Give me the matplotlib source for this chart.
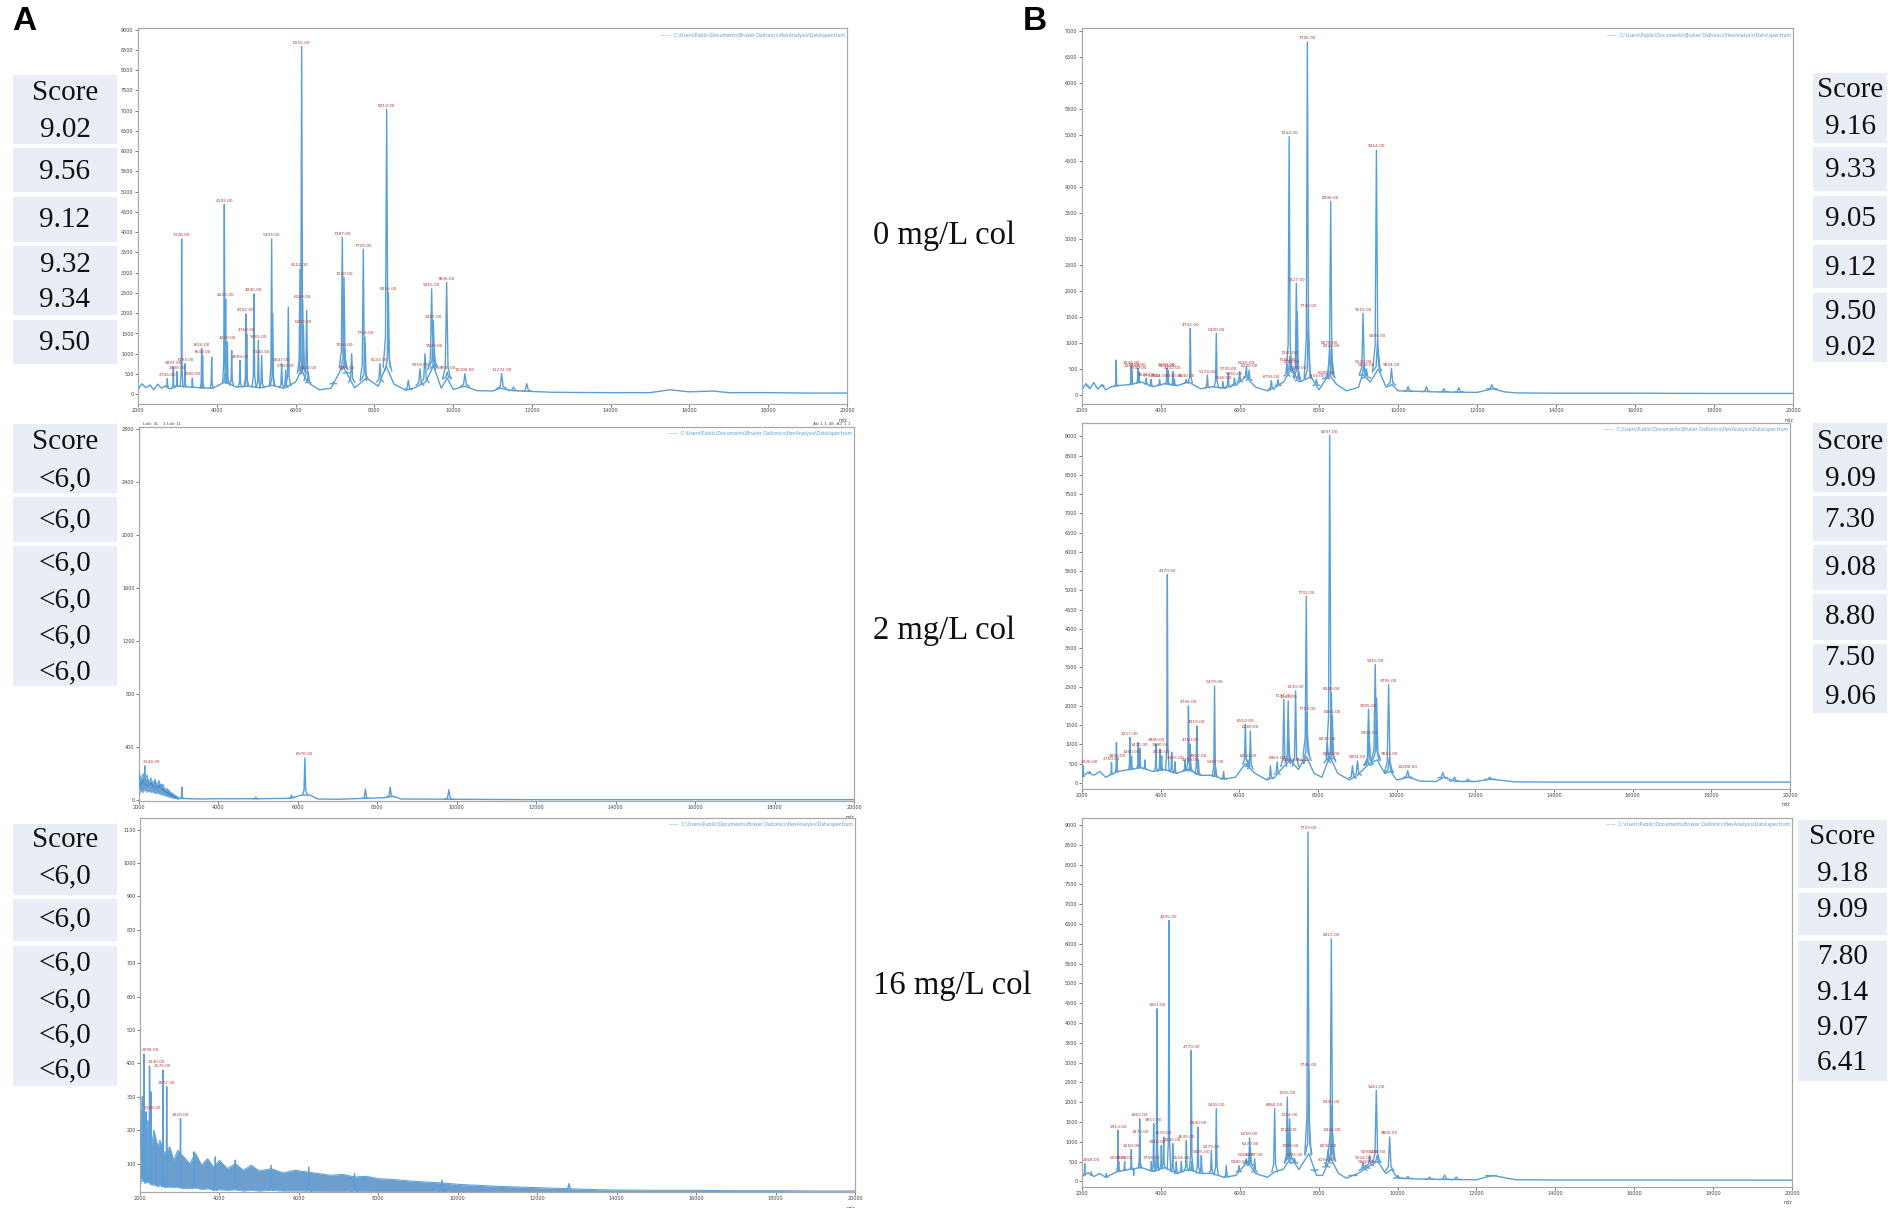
import numpy as np
import matplotlib
matplotlib.use("Agg")
import matplotlib.pyplot as plt
from matplotlib.patches import Rectangle

W, H = 1904, 1208

# ---------------- data ----------------
# Panel A1 (0 mg/L col, left)
a1_mz = [2745, 2897, 2990, 3108, 3193, 3380, 3616, 3640, 3870, 4192, 4225, 4270, 4378, 4589,
         4742, 4760, 4945, 5055, 5140, 5393, 5420, 5647, 5750, 5816, 6112, 6155, 6180, 6200,
         6282, 6324, 6960, 7187, 7230, 7250, 7297, 7424, 7720, 7763, 8143, 8313, 8355, 8862,
         9159, 9286, 9455, 9497, 9520, 9836, 9850, 10300, 11232, 11530, 11870]
a1_int = [385, 672, 560, 3830, 754, 400, 1123, 950, 918, 4690, 2350, 1290, 1080, 836,
          1985, 1490, 2476, 1330, 960, 3830, 2000, 755, 600, 2150, 3090, 8585, 2310, 1700,
          2070, 550, 300, 3870, 2890, 1120, 550, 1000, 3580, 1410, 755, 7030, 2520, 345,
          630, 1000, 2600, 1820, 1100, 2760, 550, 510, 510, 180, 260]
a1_lab = [1, 1, 1, 1, 1, 1, 1, 1, 0, 1, 1, 1, 0, 1,
          1, 1, 1, 1, 1, 1, 0, 1, 1, 0, 1, 1, 1, 1,
          0, 1, 0, 1, 1, 1, 1, 0, 1, 1, 1, 1, 1, 0,
          1, 0, 1, 1, 1, 1, 1, 1, 1, 0, 0]
a1_base_mz = [2000, 2100, 2200, 2300, 2400, 2500, 2600, 2700, 2800, 3000, 3300, 3600, 3900,
              4200, 4500, 4800, 5100, 5400, 5700, 6000, 6150, 6300, 6600, 6900, 7200, 7500,
              7800, 8100, 8300, 8500, 8800, 9000, 9300, 9500, 9700, 9850, 10000, 10300, 10600,
              11000, 11200, 11500, 12000, 12500, 13000, 14000, 15000, 15500, 16000, 16600,
              17000, 18000, 19000, 20000]
a1_base = [120, 260, 160, 230, 110, 250, 150, 210, 130, 200, 180, 160, 150,
           300, 180, 200, 160, 220, 150, 300, 600, 300, 110, 150, 700, 160,
           400, 200, 700, 250, 100, 150, 300, 700, 150, 400, 120, 200, 90,
           80, 150, 90, 70, 50, 45, 40, 40, 110, 60, 80,
           40, 40, 30, 30]

# Panel A2 (2 mg/L col, left)
a2_mz = [2030, 2144, 2240, 2400, 2560, 3080, 4940, 5840, 6176, 7700, 8324, 9800]
a2_int = [180, 260, 150, 140, 120, 100, 25, 40, 320, 85, 100, 80]
a2_lab = [0, 1, 0, 0, 0, 0, 0, 0, 1, 0, 0, 0]
a2_base_mz = [2000, 2100, 2200, 2300, 2400, 2500, 2600, 2700, 2800, 2900, 3000, 3500, 4000,
              5000, 5800, 6100, 6300, 6500, 7000, 8200, 8400, 8600, 10000, 12000, 20000]
a2_base = [80, 150, 110, 130, 90, 110, 80, 60, 40, 25, 15, 10, 12,
           12, 15, 40, 40, 10, 8, 20, 30, 10, 8, 5, 5]
a2_band_mz = [2000, 2050, 2100, 2150, 2200, 2250, 2300, 2350, 2400, 2450, 2500, 2550, 2600,
              2650, 2700, 2800, 3000]
a2_band_hi = [220, 150, 200, 140, 190, 130, 170, 120, 160, 110, 150, 100, 120, 80, 90, 60, 20]
a2_band_lo = [40, 70, 60, 80, 60, 70, 60, 65, 50, 55, 50, 45, 40, 35, 30, 20, 8]

# Panel A3 (16 mg/L col, left)
a3_mz = [2060, 2096, 2156, 2240, 2276, 2396, 2576, 2672, 3020, 3356, 3896, 4400, 5300,
         6250, 7400, 9600, 12800]
a3_int = [300, 428, 255, 392, 315, 155, 380, 330, 235, 135, 120, 110, 95, 90, 70, 50, 40]
a3_lab = [0, 1, 1, 1, 0, 0, 1, 1, 1, 0, 0, 0, 0, 0, 0, 0, 0]
a3_band_mz = [2000, 2050, 2120, 2200, 2300, 2350, 2450, 2500, 2620, 2750, 2850, 2950, 3100,
              3250, 3400, 3550, 3700, 3850, 4000, 4200, 4400, 4600, 4800, 5000, 5300, 5600,
              5900, 6200, 6500, 6800, 7100, 7400, 7700, 8000, 8400, 8800, 9200, 9600, 10000,
              10500, 11000, 11500, 12000, 12500, 13000, 13500, 14000, 15000, 16000, 17000,
              18000, 19000, 20000]
a3_band_hi = [150, 260, 180, 230, 160, 200, 150, 170, 130, 150, 110, 140, 120,
              100, 130, 95, 115, 90, 110, 85, 100, 80, 95, 78, 85, 72,
              80, 75, 70, 65, 68, 60, 62, 55, 52, 48, 45, 42, 38,
              35, 32, 30, 28, 26, 24, 22, 21, 20, 20, 19,
              19, 18, 18]
a3_band_lo = [30, 60, 40, 50, 35, 40, 30, 35, 30, 30, 28, 30, 25,
              25, 28, 22, 25, 20, 22, 20, 22, 18, 20, 18, 20, 18,
              18, 18, 17, 16, 16, 16, 16, 15, 15, 15, 15, 15, 14,
              14, 14, 14, 14, 14, 14, 14, 14, 14, 14, 14,
              14, 14, 14]

# Panel B1 (0 mg/L col, right)
b1_mz = [2148, 2528, 2866, 3246, 3265, 3415, 3440, 3626, 3752, 3964, 4150, 4175, 4302, 4340,
         4640, 4742, 5174, 5400, 5568, 5700, 5860, 5990, 6160, 6230, 6793, 6962, 7191, 7244,
         7260, 7290, 7427, 7450, 7480, 7706, 7730, 7933, 8180, 8270, 8296, 8320, 9116, 9130,
         9200, 9454, 9480, 9834, 10256, 10720, 11160, 11540, 12375]
b1_int = [160, 190, 673, 545, 480, 513, 450, 320, 300, 300, 513, 480, 450, 300,
          300, 1282, 380, 1186, 260, 420, 330, 450, 545, 480, 280, 300, 600, 4970,
          740, 560, 2150, 1600, 450, 6795, 1635, 300, 350, 930, 3720, 880, 1570, 560,
          500, 4710, 1060, 513, 160, 160, 120, 140, 200]
b1_lab = [0, 0, 0, 1, 1, 1, 1, 1, 1, 1, 1, 1, 1, 1,
          1, 1, 1, 1, 1, 1, 1, 0, 1, 1, 1, 0, 1, 1,
          1, 1, 1, 0, 1, 1, 1, 1, 1, 1, 1, 1, 1, 1,
          1, 1, 1, 1, 0, 0, 0, 0, 0]
b1_base_mz = [2000, 2100, 2200, 2300, 2400, 2500, 2600, 2750, 2900, 3200, 3500, 3800, 4100,
              4400, 4700, 5000, 5300, 5600, 5900, 6150, 6400, 6700, 6900, 7100, 7300, 7500,
              7800, 8000, 8250, 8450, 8700, 9000, 9100, 9300, 9500, 9700, 9850, 10000, 10500,
              11000, 12000, 12400, 12700, 13000, 14000, 16000, 18000, 20000]
b1_base = [100, 220, 120, 240, 110, 200, 100, 160, 180, 200, 250, 160, 220,
           180, 250, 120, 160, 130, 200, 350, 150, 80, 150, 250, 500, 250,
           350, 100, 400, 200, 80, 150, 400, 250, 500, 150, 200, 80, 70,
           60, 50, 120, 60, 40, 35, 35, 30, 30]

# Panel B2 (2 mg/L col, right)
b2_mz = [2026, 2196, 2750, 2876, 2890, 3217, 3260, 3430, 3472, 3600, 3880, 3980, 4025, 4170,
         4280, 4365, 4620, 4706, 4750, 4760, 4919, 4960, 5370, 5387, 5600, 6153, 6220, 6280,
         6791, 6961, 7131, 7242, 7259, 7300, 7430, 7640, 7702, 7719, 8238, 8297, 8340, 8365,
         8330, 8876, 9004, 9260, 9285, 9300, 9455, 9490, 9795, 9812, 10280, 11174, 11470,
         11810, 12365]
b2_int = [450, 300, 535, 1050, 600, 1180, 700, 1050, 900, 600, 1010, 880, 700, 5405,
          800, 550, 600, 2000, 1010, 500, 1480, 600, 2517, 450, 300, 1525, 600, 1353,
          450, 550, 2172, 2130, 1100, 500, 2390, 500, 4845, 1830, 1050, 9025, 2345, 1740,
          650, 450, 577, 600, 1913, 1200, 3080, 2200, 2560, 660, 320, 275, 150,
          100, 150]
b2_lab = [1, 0, 1, 0, 1, 1, 1, 0, 1, 0, 1, 1, 1, 1,
          0, 1, 0, 1, 1, 1, 1, 1, 1, 1, 0, 1, 1, 1,
          0, 1, 1, 1, 0, 1, 1, 1, 1, 1, 1, 1, 1, 1,
          1, 0, 1, 0, 1, 1, 1, 0, 1, 1, 1, 0, 0,
          0, 0]
b2_base_mz = [2000, 2150, 2300, 2450, 2600, 2900, 3200, 3500, 3800, 4100, 4400, 4700, 5000,
              5300, 5600, 5900, 6150, 6400, 6700, 6900, 7100, 7300, 7500, 7700, 7900, 8100,
              8300, 8500, 8800, 9000, 9300, 9500, 9700, 9850, 10000, 10300, 10600, 11000,
              11200, 11500, 12000, 12400, 13000, 14000, 20000]
b2_base = [150, 280, 200, 300, 150, 300, 350, 400, 300, 350, 250, 350, 200,
           200, 100, 150, 500, 250, 80, 150, 400, 600, 350, 700, 250, 150,
           700, 250, 80, 200, 500, 600, 250, 300, 80, 150, 50, 40,
           150, 40, 40, 100, 30, 25, 25]

# Panel B3 (16 mg/L col, right)
b3_mz = [2068, 2237, 2617, 2913, 2930, 3080, 3250, 3310, 3462, 3470, 3758, 3817, 3901, 3910,
         4011, 4070, 4205, 4300, 4391, 4518, 4645, 4770, 4780, 4940, 5025, 5279, 5405, 5659,
         5980, 6166, 6250, 6270, 6377, 6884, 7205, 7220, 7264, 7280, 7391, 7729, 7746, 7898,
         8194, 8236, 8321, 8330, 8345, 8870, 9124, 9200, 9293, 9461, 9480, 9800, 10010,
         10264, 10813, 11194, 11490, 12377]
b3_int = [446, 240, 200, 1290, 500, 500, 800, 150, 1580, 1150, 500, 1457, 4360, 900,
          900, 1120, 6590, 950, 500, 500, 1035, 3310, 500, 1370, 650, 783, 1835, 400,
          400, 570, 1100, 850, 570, 1835, 2130, 1200, 1580, 800, 570, 8824, 2846, 240,
          450, 800, 6130, 1920, 1200, 150, 490, 400, 650, 2300, 650, 1120, 150,
          130, 110, 160, 110, 130]
b3_lab = [1, 0, 0, 1, 1, 1, 1, 0, 1, 1, 1, 1, 1, 1,
          0, 1, 1, 1, 0, 1, 1, 1, 0, 1, 1, 1, 1, 0,
          1, 1, 1, 1, 1, 1, 1, 1, 1, 1, 1, 1, 1, 0,
          1, 1, 1, 1, 1, 0, 1, 1, 1, 1, 1, 1, 0,
          0, 0, 0, 0, 0]
b3_base_mz = [2000, 2150, 2300, 2450, 2600, 2900, 3200, 3500, 3800, 4100, 4400, 4700, 5000,
              5300, 5600, 5900, 6200, 6400, 6700, 6900, 7100, 7300, 7500, 7750, 7950, 8100,
              8300, 8500, 8700, 9000, 9300, 9500, 9700, 9850, 10000, 10500, 11000, 12000,
              12400, 13000, 14000, 20000]
b3_base = [120, 220, 120, 200, 100, 250, 300, 350, 250, 350, 200, 300, 200,
           200, 100, 150, 500, 200, 100, 250, 300, 600, 300, 700, 150, 150,
           600, 200, 80, 200, 400, 500, 200, 300, 80, 60, 50, 40,
           150, 40, 35, 30]

# score tables
scores_a1 = [["Score", "9.02"], ["9.56"], ["9.12"], ["9.32", "9.34"], ["9.50"]]
scores_a2 = [["Score", "<6,0"], ["<6,0"], ["<6,0", "<6,0", "<6,0", "<6,0"]]
scores_a3 = [["Score", "<6,0"], ["<6,0"], ["<6,0", "<6,0", "<6,0", "<6,0"]]
scores_b1 = [["Score", "9.16"], ["9.33"], ["9.05"], ["9.12"], ["9.50", "9.02"]]
scores_b2 = [["Score", "9.09"], ["7.30"], ["9.08"], ["8.80"], ["7.50", "9.06"]]
scores_b3 = [["Score", "9.18"], ["9.09"], ["7.80", "9.14", "9.07", "6.41"]]
conditions = ["0 mg/L col", "2 mg/L col", "16 mg/L col"]
xticks = list(range(2000, 20001, 2000))

# ---------------- drawing ----------------
fig = plt.figure(figsize=(W / 100, H / 100), dpi=100)
fig.patch.set_facecolor("white")

LINE = "#5b9fd5"
SERIF = ["Liberation Serif", "DejaVu Serif"]


def px_axes(x0, y0, x1, y1):
    return fig.add_axes([x0 / W, 1 - y1 / H, (x1 - x0) / W, (y1 - y0) / H])


def panel(rect, mz, inten, lab, base_mz, base, ylim, ystep, ystart, band=None, header=False):
    ax = px_axes(*rect)
    ax.set_xlim(2000, 20000)
    ax.set_ylim(*ylim)
    if base_mz is not None:
        ax.plot(base_mz, base, color=LINE, lw=1.0, zorder=2)
    if band is not None:
        bm, bh, bl = band
        ax.fill_between(bm, bl, bh, color="#3579bf", alpha=0.72, lw=0, zorder=2)
        ax.plot(bm, bh, color="#5fa6df", lw=0.8, zorder=3)
        ax.plot(bm, bl, color="#7cb9e8", lw=0.6, zorder=3)
    for m, h, l in zip(mz, inten, lab):
        if base_mz is not None:
            b = float(np.interp(m, base_mz, base))
        else:
            b = float(np.interp(m, band[0], band[2]))
        w = 0.0035 * m
        xs = [m - 3 * w, m - w, m, m + w, m + 3 * w]
        ys = [b, b + 0.12 * (h - b), h, b + 0.12 * (h - b), b]
        ax.plot(xs, ys, color=LINE, lw=1.0, zorder=3)
        if l:
            near_left = (m - 2000) < 300
            ax.annotate(f"{m:.2f}", (m, h), xytext=(-1.5 if near_left else 0, 1.2),
                        textcoords="offset points", ha="left" if near_left else "center",
                        va="bottom", fontsize=3.1, color="#b23a3a", zorder=4)
    ax.set_xticks(xticks)
    ax.set_xticklabels([str(t) for t in xticks])
    yt = np.arange(ystart, ylim[1] + 1, ystep)
    ax.set_yticks(yt)
    ax.set_yticklabels([str(int(t)) for t in yt])
    ax.tick_params(labelsize=3.5, colors="#444444", length=2, width=0.5, pad=1.2)
    for s in ax.spines.values():
        s.set_color("#a9a9a9")
        s.set_linewidth(0.9)
    ax.text(0.997, 0.988, "——  C:\\Users\\Public\\Documents\\Bruker Daltonics\\flexAnalysis\\Data\\spectrum",
            transform=ax.transAxes, ha="right", va="top", fontsize=3.4, color="#5a9fd6")
    ax.text(1.0, -0.035, "m/z", transform=ax.transAxes, ha="right", va="top",
            fontsize=3.4, color="#444444")
    if header:
        ax.text(0.005, 1.004, "Lab: 4L   1 Lab 1L", transform=ax.transAxes, ha="left",
                va="bottom", fontsize=3.2, color="#555555")
        ax.text(0.995, 1.004, "Ab 1 1 48  A1 1 1", transform=ax.transAxes, ha="right",
                va="bottom", fontsize=3.2, color="#555555")
    return ax


panel((138, 28, 847, 404), a1_mz, a1_int, a1_lab, a1_base_mz, a1_base, (-240, 9040), 500, 0)
panel((139, 427, 854, 801), a2_mz, a2_int, a2_lab, a2_base_mz, a2_base, (-5, 2815), 400, 0,
      band=(a2_band_mz, a2_band_hi, a2_band_lo), header=True)
panel((140, 818, 855, 1192), a3_mz, a3_int, a3_lab, None, None, (15, 1135), 100, 100,
      band=(a3_band_mz, a3_band_hi, a3_band_lo))
panel((1082, 28, 1793, 404), b1_mz, b1_int, b1_lab, b1_base_mz, b1_base, (-173, 7058), 500, 0)
panel((1082, 423, 1790, 789), b2_mz, b2_int, b2_lab, b2_base_mz, b2_base, (-155, 9344), 500, 0)
panel((1082, 818, 1792, 1187), b3_mz, b3_int, b3_lab, b3_base_mz, b3_base, (-143, 9178), 500, 0)


def score_boxes(groups, x0, x1, boxes_y, lines_y):
    k = 0
    for grp, (y0, y1) in zip(groups, boxes_y):
        fig.add_artist(Rectangle((x0 / W, 1 - y1 / H), (x1 - x0) / W, (y1 - y0) / H,
                                 transform=fig.transFigure, facecolor="#e9edf5",
                                 edgecolor="none", zorder=0))
        for t in grp:
            fig.text((x0 + x1) / 2 / W, 1 - lines_y[k] / H, t, ha="center", va="center",
                     fontsize=21, family=SERIF, color="#111111")
            k += 1


score_boxes(scores_a1, 13, 117, [(75, 144), (148, 192), (197, 242), (246, 315), (320, 364)],
            [93, 130, 172, 220, 265, 300, 343])
score_boxes(scores_a2, 13, 117, [(424, 493), (497, 542), (546, 686)],
            [442, 479, 520, 563, 600, 636, 672])
score_boxes(scores_a3, 13, 117, [(824, 895), (899, 941), (946, 1086)],
            [840, 876, 919, 963, 1000, 1035, 1070])
score_boxes(scores_b1, 1813, 1887, [(73, 143), (147, 191), (196, 240), (245, 288), (293, 362)],
            [90, 127, 170, 219, 268, 312, 348])
score_boxes(scores_b2, 1813, 1887, [(423, 492), (496, 541), (545, 590), (594, 640), (644, 713)],
            [442, 479, 520, 568, 617, 658, 697])
score_boxes(scores_b3, 1798, 1887, [(820, 888), (893, 935), (941, 1081)],
            [837, 874, 910, 957, 993, 1028, 1063])

for txt, yc in zip(conditions, [236, 631, 986]):
    fig.text(873 / W, 1 - yc / H, txt, ha="left", va="center", fontsize=23.5,
             family=SERIF, color="#111111")

fig.text(12 / W, 1 - 22 / H, "A", ha="left", va="center", fontsize=24, fontweight="bold",
         family=["Liberation Sans", "DejaVu Sans"])
fig.text(1023 / W, 1 - 22 / H, "B", ha="left", va="center", fontsize=24, fontweight="bold",
         family=["Liberation Sans", "DejaVu Sans"])

fig.savefig("out.png", dpi=100, facecolor="white")
